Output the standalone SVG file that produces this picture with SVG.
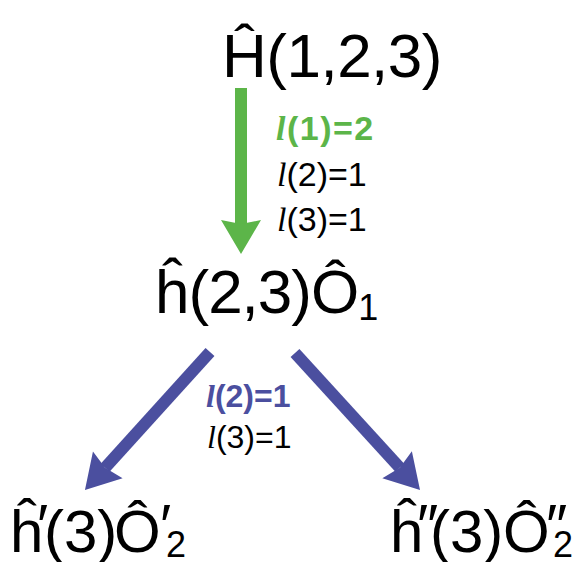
<svg xmlns="http://www.w3.org/2000/svg" width="579" height="562" viewBox="0 0 579 562">
<style>
.main{font-family:"Liberation Sans",Arial,sans-serif;fill:#000}
.lab{font-family:"Liberation Sans",Arial,sans-serif;font-size:34px;fill:#000}
.lab2{font-family:"Liberation Sans",Arial,sans-serif;font-size:32px;fill:#000}
.ell{font-family:"Liberation Serif","Times New Roman",serif;font-style:italic}
.g{fill:#5cb549;font-weight:bold}
.b{fill:#4b4f9f;font-weight:bold}
.shaft-g{stroke:#5cb549;stroke-width:12;fill:none}
.shaft-b{stroke:#4b4f9f;stroke-width:12;fill:none}
</style>
<defs>
<marker id="hg" markerUnits="userSpaceOnUse" viewBox="-10 -25 45 50" refX="0" refY="0" markerWidth="45" markerHeight="50" orient="auto" overflow="visible">
<path d="M30,0 L-4,-20 L0,0 L-4,20 Z" fill="#5cb549"/>
</marker>
<marker id="hb" markerUnits="userSpaceOnUse" viewBox="-10 -25 45 50" refX="0" refY="0" markerWidth="45" markerHeight="50" orient="auto" overflow="visible">
<path d="M30,0 L-4,-20 L0,0 L-4,20 Z" fill="#4b4f9f"/>
</marker>
</defs>
<rect width="579" height="562" fill="#fff"/>
<g id="connectors">
<line class="shaft-g" x1="241" y1="88" x2="241" y2="224" marker-end="url(#hg)"/>
<line class="shaft-b" x1="210" y1="352" x2="105.1" y2="467.8" marker-end="url(#hb)"/>
<line class="shaft-b" x1="295" y1="353" x2="399.8" y2="467.8" marker-end="url(#hb)"/>
</g>
<g id="labels-1">
<text class="lab" x="276" y="140" letter-spacing="1.5"><tspan class="g ell">l</tspan><tspan class="g">(1)=2</tspan></text>
<text class="lab" x="277" y="186"><tspan class="ell">l</tspan>(2)=1</text>
<text class="lab" x="277" y="231"><tspan class="ell">l</tspan>(3)=1</text>
</g>
<g id="labels-2">
<text class="lab2" x="206" y="407"><tspan class="b ell">l</tspan><tspan class="b">(2)=1</tspan></text>
<text class="lab2" x="207" y="448"><tspan class="ell">l</tspan>(3)=1</text>
</g>
<g id="node-H">
<text class="main" x="222" y="77" font-size="62" letter-spacing="-0.5">Ĥ(1,2,3)</text>
</g>
<g id="node-h1">
<text class="main" x="155" y="313" font-size="62" letter-spacing="-1">ĥ(2,3)Ô<tspan font-size="36" dy="7">1</tspan></text>
</g>
<g id="node-h2a">
<text class="main" x="10" y="552" font-size="60">ĥ</text>
<text class="main" x="37" y="546" font-size="60">′</text>
<text class="main" x="44" y="552" font-size="60">(3)</text>
<text class="main" x="114" y="552" font-size="60">Ô</text>
<text class="main" x="160" y="546" font-size="60">′</text>
<text class="main" x="166" y="557" font-size="36">2</text>
</g>
<g id="node-h2b">
<text class="main" x="390" y="552" font-size="60">ĥ</text>
<text class="main" x="417" y="546" font-size="60">″</text>
<text class="main" x="430" y="552" font-size="60">(3)</text>
<text class="main" x="503" y="552" font-size="60">Ô</text>
<text class="main" x="546" y="546" font-size="60">″</text>
<text class="main" x="553" y="557" font-size="36">2</text>
</g>
</svg>
